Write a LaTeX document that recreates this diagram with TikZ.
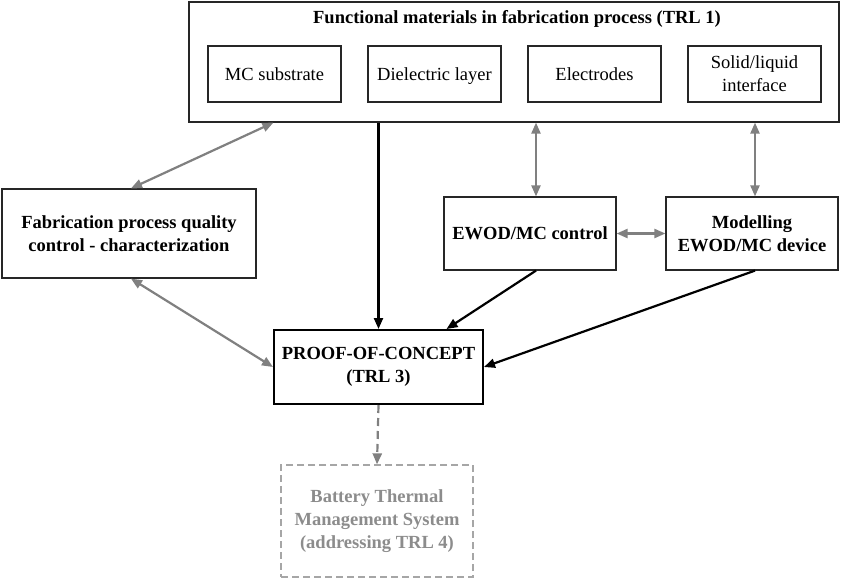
\documentclass[tikz,border=0pt]{standalone}
\usepackage{fontspec}
\setmainfont{Liberation Serif}
\usetikzlibrary{arrows.meta,calc}
\definecolor{arrgray}{HTML}{808080}
\definecolor{lightgray}{HTML}{A6A6A6}
\definecolor{txtgray}{HTML}{8C8C8C}
\begin{document}
\begin{tikzpicture}[x=1pt,y=-1pt,
  every node/.style={font=\fontsize{18.5}{23}\selectfont},
  box/.style={draw=black!85, line width=1.2pt, inner sep=0pt, align=center},
  bbox/.style={box, font=\fontsize{18.5}{23}\selectfont\bfseries},
  onebox/.style={box, minimum width=133pt, minimum height=56pt, text height=12.5pt, text depth=0pt},
  grayarr/.style={draw=arrgray, line width=2.2pt, {Triangle[length=11pt,width=9pt]}-{Triangle[length=11pt,width=9pt]}},
  blackarr/.style={draw=black, line width=2.2pt, -{Triangle[length=11pt,width=9pt]}}
]
\useasboundingbox (0,0) rectangle (841,579);
\fill[white] (0,0) rectangle (841,579);

% top group
\node[box, minimum width=650pt, minimum height=120pt] (top) at (514,62) {};
\node[font=\fontsize{18.5}{23}\selectfont\bfseries] (title) at (517,19) {Functional materials in fabrication process (TRL 1)};
\node[onebox] (mc) at (274.5,74) {MC substrate};
\node[onebox] (diel) at (434.5,74) {Dielectric layer};
\node[onebox] (elec) at (594.5,74) {Electrodes};
\node[box, minimum width=133pt, minimum height=56pt] (sl) at (754.5,74) {Solid/liquid\\interface};

% middle
\node[bbox, minimum width=254pt, minimum height=89pt] (left) at (129,233.5) {Fabrication process quality\\control - characterization};
\node[bbox, minimum width=172pt, minimum height=73pt] (ewod) at (530,233.5) {EWOD/MC control};
\node[bbox, minimum width=172pt, minimum height=73pt] (model) at (752,233.5) {Modelling\\EWOD/MC device};

% proof of concept
\node[bbox, line width=2pt, draw=black, minimum width=209pt, minimum height=74pt] (poc) at (378.5,367) {PROOF-OF-CONCEPT\\(TRL 3)};

% battery
\node[draw=lightgray, dash pattern=on 7pt off 4pt, line width=1.3pt, inner sep=0pt, align=center,
      minimum width=192pt, minimum height=112pt, text=txtgray,
      font=\fontsize{18.5}{23}\selectfont\bfseries] (bat) at (377,521) {Battery Thermal\\Management System\\(addressing TRL 4)};

% connectors
\draw[grayarr] ([xshift=85pt]top.south west) -- ([xshift=2pt]left.north);
\draw[blackarr] (top.south -| poc.north) -- (poc.north);
\draw[grayarr] ([xshift=6pt]ewod.north |- top.south) -- ([xshift=6pt]ewod.north);
\draw[grayarr] ([xshift=3pt]model.north |- top.south) -- ([xshift=3pt]model.north);
\draw[grayarr] (ewod.east) -- (model.west);
\draw[blackarr] ([xshift=6pt]ewod.south) -- ([xshift=68pt]poc.north);
\draw[blackarr] ([xshift=3pt]model.south) -- (poc.east);
\draw[grayarr] ([xshift=2pt]left.south) -- (poc.west);
\draw[draw=arrgray, line width=2.2pt, dash pattern=on 8pt off 5pt, -{Triangle[length=11pt,width=9pt]}] (poc.south) -- (bat.north);
\end{tikzpicture}
\end{document}
